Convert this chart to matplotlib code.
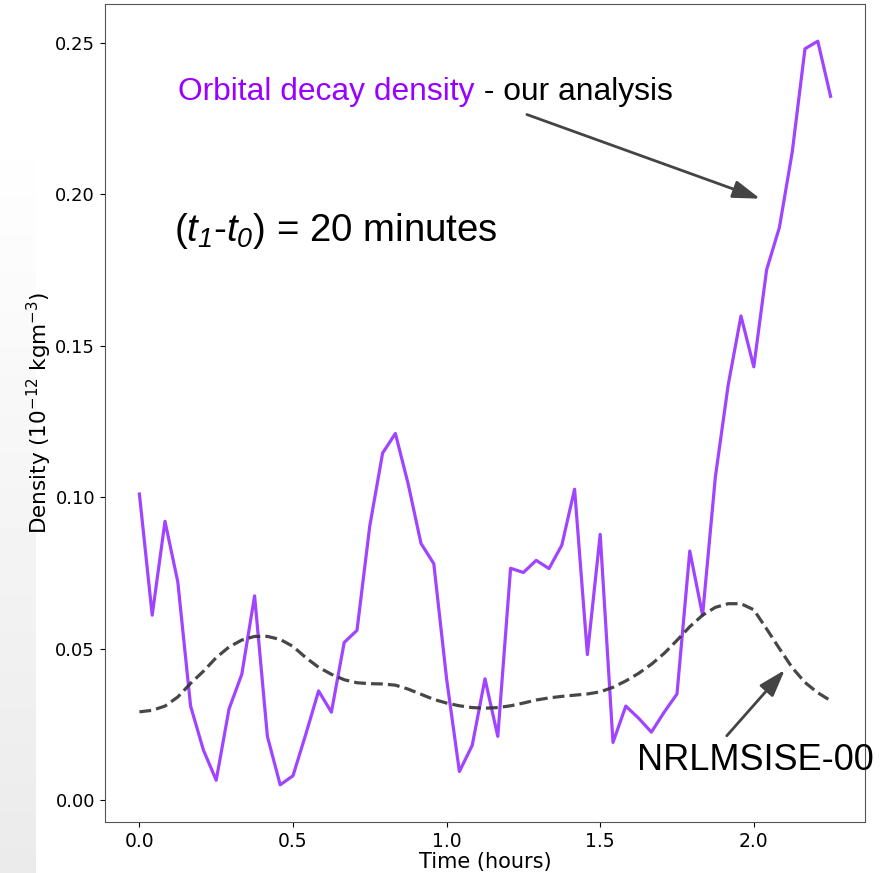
import numpy as np
import matplotlib
matplotlib.use('Agg')
import matplotlib.pyplot as plt

# time steps of 2.5 minutes over 2.25 hours
time_hours = np.arange(55) * 2.5 / 60.0

# orbital decay density (our analysis), 10^-12 kg m^-3
decay_density = [0.101, 0.061, 0.092, 0.072, 0.031, 0.0165, 0.0065, 0.030, 0.0415, 0.0674,
                 0.021, 0.005, 0.008, 0.0217, 0.036, 0.029, 0.052, 0.056, 0.0905, 0.1145,
                 0.121, 0.1043, 0.0847, 0.078, 0.040, 0.0094, 0.018, 0.040, 0.021, 0.0765,
                 0.0751, 0.0791, 0.0764, 0.0841, 0.1026, 0.048, 0.0877, 0.019, 0.031, 0.027,
                 0.0224, 0.029, 0.035, 0.0822, 0.061, 0.1067, 0.137, 0.1598, 0.143, 0.175,
                 0.189, 0.2138, 0.248, 0.2505, 0.2323]

# NRLMSISE-00 model density
model_density = [0.0291, 0.0296, 0.0310, 0.0340, 0.0385, 0.0425, 0.0470, 0.0505, 0.0528, 0.0540,
                 0.0540, 0.0530, 0.0507, 0.0470, 0.0438, 0.0415, 0.0397, 0.0387, 0.0384, 0.0383,
                 0.0379, 0.0366, 0.0349, 0.0332, 0.0320, 0.0311, 0.0305, 0.0303, 0.0305, 0.0311,
                 0.0320, 0.0330, 0.0337, 0.0342, 0.0346, 0.0350, 0.0357, 0.0372, 0.0393, 0.0418,
                 0.0448, 0.0484, 0.0527, 0.0572, 0.0610, 0.0636, 0.0648, 0.0648, 0.0628, 0.0565,
                 0.0500, 0.0437, 0.0388, 0.0354, 0.0328]

# custom mathtext only used by the (t1-t0) label; everything in it italic
plt.rcParams['mathtext.fontset'] = 'custom'
plt.rcParams['mathtext.rm'] = 'Liberation Sans:italic'
plt.rcParams['mathtext.it'] = 'Liberation Sans:italic'

fig = plt.figure(figsize=(8.81, 8.73), dpi=100)

# faint slide background on the left edge
bg = fig.add_axes([0, 0, 0.04, 0.86])
bg.imshow(np.linspace(0.92, 1.0, 100).reshape(-1, 1), cmap='gray', vmin=0, vmax=1,
          aspect='auto', origin='lower')
bg.set_axis_off()

ax = fig.add_axes([0.119, 0.0584, 0.863, 0.937])
ax.plot(time_hours, decay_density, color='#a044ff', lw=2.3)
ax.plot(time_hours, model_density, color='#333333', lw=2.3, ls='--', alpha=0.9)

ax.set_xlabel('Time (hours)', fontsize=15, labelpad=1)
ax.set_ylabel(r'Density ($10^{-12}$ kgm$^{-3}$)', fontsize=15.5, labelpad=1)
ax.yaxis.label.set_math_fontfamily('dejavusans')
ax.tick_params(axis='x', labelsize=13.5)
ax.tick_params(axis='y', labelsize=13)
ax.set_xticks([0.0, 0.5, 1.0, 1.5, 2.0])
ax.set_yticks([0.0, 0.05, 0.10, 0.15, 0.20, 0.25])
for s in ax.spines.values():
    s.set_color('#555555')

head = '-|>,head_length=0.55,head_width=0.18'

t1 = ax.text(0.127, 0.2336, 'Orbital decay density', color='#9900ff', fontsize=22.9,
             family='Liberation Sans', va='center')
ax.annotate(' - our analysis', xycoords=t1, xy=(1, 0.5), va='center', ha='left',
            fontsize=22.9, family='Liberation Sans', color='black')
ax.annotate('', xy=(2.029, 0.1982), xytext=(1.253, 0.2266),
            arrowprops=dict(arrowstyle=head, color='#444444', lw=2, mutation_scale=30))

ax.text(0.112, 0.188, r'($t_1$-$t_0$) = 20 minutes', fontsize=27.6,
        family='Liberation Sans', va='center')

ax.text(1.62, 0.0129, 'NRLMSISE-00', fontsize=26, family='Liberation Sans', va='center',
        clip_on=False)
ax.annotate('', xy=(2.107, 0.0436), xytext=(1.906, 0.0205),
            arrowprops=dict(arrowstyle=head, color='#444444', lw=2, mutation_scale=30))

plt.savefig('out.png', dpi=100)
